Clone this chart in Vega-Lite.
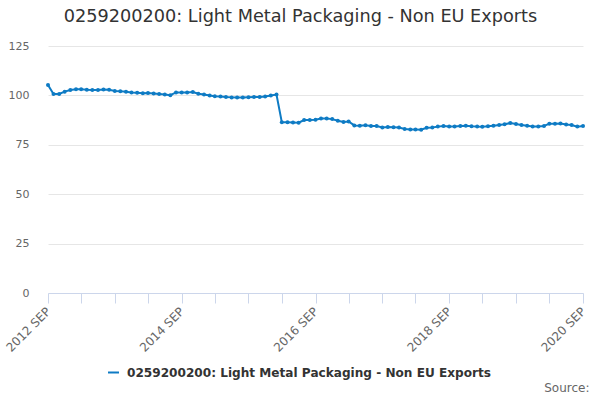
{
  "$schema": "https://vega.github.io/schema/vega-lite/v6.json",
  "autosize": "none",
  "width": 535,
  "height": 247,
  "padding": {"left": 48, "top": 46, "right": 17, "bottom": 107},
  "background": "white",
  "title": {
    "text": "0259200200: Light Metal Packaging - Non EU Exports",
    "font": "DejaVu Sans",
    "fontSize": 17.7,
    "fontWeight": "normal",
    "color": "#333333",
    "anchor": "middle",
    "dx": -15,
    "offset": 14
  },
  "data": {
    "values": [
      {"month": "2012-09-01", "value": 105.3, "series": "0259200200: Light Metal Packaging - Non EU Exports"},
      {"month": "2012-10-01", "value": 100.7, "series": "0259200200: Light Metal Packaging - Non EU Exports"},
      {"month": "2012-11-01", "value": 100.7, "series": "0259200200: Light Metal Packaging - Non EU Exports"},
      {"month": "2012-12-01", "value": 101.9, "series": "0259200200: Light Metal Packaging - Non EU Exports"},
      {"month": "2013-01-01", "value": 102.7, "series": "0259200200: Light Metal Packaging - Non EU Exports"},
      {"month": "2013-02-01", "value": 103.1, "series": "0259200200: Light Metal Packaging - Non EU Exports"},
      {"month": "2013-03-01", "value": 103.1, "series": "0259200200: Light Metal Packaging - Non EU Exports"},
      {"month": "2013-04-01", "value": 102.8, "series": "0259200200: Light Metal Packaging - Non EU Exports"},
      {"month": "2013-05-01", "value": 102.7, "series": "0259200200: Light Metal Packaging - Non EU Exports"},
      {"month": "2013-06-01", "value": 102.7, "series": "0259200200: Light Metal Packaging - Non EU Exports"},
      {"month": "2013-07-01", "value": 103.0, "series": "0259200200: Light Metal Packaging - Non EU Exports"},
      {"month": "2013-08-01", "value": 102.8, "series": "0259200200: Light Metal Packaging - Non EU Exports"},
      {"month": "2013-09-01", "value": 102.2, "series": "0259200200: Light Metal Packaging - Non EU Exports"},
      {"month": "2013-10-01", "value": 102.1, "series": "0259200200: Light Metal Packaging - Non EU Exports"},
      {"month": "2013-11-01", "value": 101.8, "series": "0259200200: Light Metal Packaging - Non EU Exports"},
      {"month": "2013-12-01", "value": 101.5, "series": "0259200200: Light Metal Packaging - Non EU Exports"},
      {"month": "2014-01-01", "value": 101.3, "series": "0259200200: Light Metal Packaging - Non EU Exports"},
      {"month": "2014-02-01", "value": 101.1, "series": "0259200200: Light Metal Packaging - Non EU Exports"},
      {"month": "2014-03-01", "value": 101.2, "series": "0259200200: Light Metal Packaging - Non EU Exports"},
      {"month": "2014-04-01", "value": 101.0, "series": "0259200200: Light Metal Packaging - Non EU Exports"},
      {"month": "2014-05-01", "value": 100.7, "series": "0259200200: Light Metal Packaging - Non EU Exports"},
      {"month": "2014-06-01", "value": 100.4, "series": "0259200200: Light Metal Packaging - Non EU Exports"},
      {"month": "2014-07-01", "value": 100.1, "series": "0259200200: Light Metal Packaging - Non EU Exports"},
      {"month": "2014-08-01", "value": 101.5, "series": "0259200200: Light Metal Packaging - Non EU Exports"},
      {"month": "2014-09-01", "value": 101.5, "series": "0259200200: Light Metal Packaging - Non EU Exports"},
      {"month": "2014-10-01", "value": 101.5, "series": "0259200200: Light Metal Packaging - Non EU Exports"},
      {"month": "2014-11-01", "value": 101.7, "series": "0259200200: Light Metal Packaging - Non EU Exports"},
      {"month": "2014-12-01", "value": 100.8, "series": "0259200200: Light Metal Packaging - Non EU Exports"},
      {"month": "2015-01-01", "value": 100.5, "series": "0259200200: Light Metal Packaging - Non EU Exports"},
      {"month": "2015-02-01", "value": 99.9, "series": "0259200200: Light Metal Packaging - Non EU Exports"},
      {"month": "2015-03-01", "value": 99.6, "series": "0259200200: Light Metal Packaging - Non EU Exports"},
      {"month": "2015-04-01", "value": 99.5, "series": "0259200200: Light Metal Packaging - Non EU Exports"},
      {"month": "2015-05-01", "value": 99.2, "series": "0259200200: Light Metal Packaging - Non EU Exports"},
      {"month": "2015-06-01", "value": 99.0, "series": "0259200200: Light Metal Packaging - Non EU Exports"},
      {"month": "2015-07-01", "value": 98.9, "series": "0259200200: Light Metal Packaging - Non EU Exports"},
      {"month": "2015-08-01", "value": 98.9, "series": "0259200200: Light Metal Packaging - Non EU Exports"},
      {"month": "2015-09-01", "value": 99.1, "series": "0259200200: Light Metal Packaging - Non EU Exports"},
      {"month": "2015-10-01", "value": 99.2, "series": "0259200200: Light Metal Packaging - Non EU Exports"},
      {"month": "2015-11-01", "value": 99.2, "series": "0259200200: Light Metal Packaging - Non EU Exports"},
      {"month": "2015-12-01", "value": 99.4, "series": "0259200200: Light Metal Packaging - Non EU Exports"},
      {"month": "2016-01-01", "value": 99.9, "series": "0259200200: Light Metal Packaging - Non EU Exports"},
      {"month": "2016-02-01", "value": 100.4, "series": "0259200200: Light Metal Packaging - Non EU Exports"},
      {"month": "2016-03-01", "value": 86.4, "series": "0259200200: Light Metal Packaging - Non EU Exports"},
      {"month": "2016-04-01", "value": 86.4, "series": "0259200200: Light Metal Packaging - Non EU Exports"},
      {"month": "2016-05-01", "value": 86.3, "series": "0259200200: Light Metal Packaging - Non EU Exports"},
      {"month": "2016-06-01", "value": 86.2, "series": "0259200200: Light Metal Packaging - Non EU Exports"},
      {"month": "2016-07-01", "value": 87.5, "series": "0259200200: Light Metal Packaging - Non EU Exports"},
      {"month": "2016-08-01", "value": 87.6, "series": "0259200200: Light Metal Packaging - Non EU Exports"},
      {"month": "2016-09-01", "value": 87.7, "series": "0259200200: Light Metal Packaging - Non EU Exports"},
      {"month": "2016-10-01", "value": 88.3, "series": "0259200200: Light Metal Packaging - Non EU Exports"},
      {"month": "2016-11-01", "value": 88.3, "series": "0259200200: Light Metal Packaging - Non EU Exports"},
      {"month": "2016-12-01", "value": 88.0, "series": "0259200200: Light Metal Packaging - Non EU Exports"},
      {"month": "2017-01-01", "value": 87.2, "series": "0259200200: Light Metal Packaging - Non EU Exports"},
      {"month": "2017-02-01", "value": 86.6, "series": "0259200200: Light Metal Packaging - Non EU Exports"},
      {"month": "2017-03-01", "value": 86.8, "series": "0259200200: Light Metal Packaging - Non EU Exports"},
      {"month": "2017-04-01", "value": 84.8, "series": "0259200200: Light Metal Packaging - Non EU Exports"},
      {"month": "2017-05-01", "value": 84.6, "series": "0259200200: Light Metal Packaging - Non EU Exports"},
      {"month": "2017-06-01", "value": 84.9, "series": "0259200200: Light Metal Packaging - Non EU Exports"},
      {"month": "2017-07-01", "value": 84.5, "series": "0259200200: Light Metal Packaging - Non EU Exports"},
      {"month": "2017-08-01", "value": 84.5, "series": "0259200200: Light Metal Packaging - Non EU Exports"},
      {"month": "2017-09-01", "value": 83.8, "series": "0259200200: Light Metal Packaging - Non EU Exports"},
      {"month": "2017-10-01", "value": 84.0, "series": "0259200200: Light Metal Packaging - Non EU Exports"},
      {"month": "2017-11-01", "value": 83.9, "series": "0259200200: Light Metal Packaging - Non EU Exports"},
      {"month": "2017-12-01", "value": 83.7, "series": "0259200200: Light Metal Packaging - Non EU Exports"},
      {"month": "2018-01-01", "value": 83.0, "series": "0259200200: Light Metal Packaging - Non EU Exports"},
      {"month": "2018-02-01", "value": 82.8, "series": "0259200200: Light Metal Packaging - Non EU Exports"},
      {"month": "2018-03-01", "value": 82.7, "series": "0259200200: Light Metal Packaging - Non EU Exports"},
      {"month": "2018-04-01", "value": 82.6, "series": "0259200200: Light Metal Packaging - Non EU Exports"},
      {"month": "2018-05-01", "value": 83.6, "series": "0259200200: Light Metal Packaging - Non EU Exports"},
      {"month": "2018-06-01", "value": 83.8, "series": "0259200200: Light Metal Packaging - Non EU Exports"},
      {"month": "2018-07-01", "value": 84.2, "series": "0259200200: Light Metal Packaging - Non EU Exports"},
      {"month": "2018-08-01", "value": 84.5, "series": "0259200200: Light Metal Packaging - Non EU Exports"},
      {"month": "2018-09-01", "value": 84.3, "series": "0259200200: Light Metal Packaging - Non EU Exports"},
      {"month": "2018-10-01", "value": 84.3, "series": "0259200200: Light Metal Packaging - Non EU Exports"},
      {"month": "2018-11-01", "value": 84.5, "series": "0259200200: Light Metal Packaging - Non EU Exports"},
      {"month": "2018-12-01", "value": 84.7, "series": "0259200200: Light Metal Packaging - Non EU Exports"},
      {"month": "2019-01-01", "value": 84.4, "series": "0259200200: Light Metal Packaging - Non EU Exports"},
      {"month": "2019-02-01", "value": 84.2, "series": "0259200200: Light Metal Packaging - Non EU Exports"},
      {"month": "2019-03-01", "value": 84.1, "series": "0259200200: Light Metal Packaging - Non EU Exports"},
      {"month": "2019-04-01", "value": 84.4, "series": "0259200200: Light Metal Packaging - Non EU Exports"},
      {"month": "2019-05-01", "value": 84.7, "series": "0259200200: Light Metal Packaging - Non EU Exports"},
      {"month": "2019-06-01", "value": 85.0, "series": "0259200200: Light Metal Packaging - Non EU Exports"},
      {"month": "2019-07-01", "value": 85.4, "series": "0259200200: Light Metal Packaging - Non EU Exports"},
      {"month": "2019-08-01", "value": 86.0, "series": "0259200200: Light Metal Packaging - Non EU Exports"},
      {"month": "2019-09-01", "value": 85.5, "series": "0259200200: Light Metal Packaging - Non EU Exports"},
      {"month": "2019-10-01", "value": 85.0, "series": "0259200200: Light Metal Packaging - Non EU Exports"},
      {"month": "2019-11-01", "value": 84.6, "series": "0259200200: Light Metal Packaging - Non EU Exports"},
      {"month": "2019-12-01", "value": 84.3, "series": "0259200200: Light Metal Packaging - Non EU Exports"},
      {"month": "2020-01-01", "value": 84.3, "series": "0259200200: Light Metal Packaging - Non EU Exports"},
      {"month": "2020-02-01", "value": 84.5, "series": "0259200200: Light Metal Packaging - Non EU Exports"},
      {"month": "2020-03-01", "value": 85.7, "series": "0259200200: Light Metal Packaging - Non EU Exports"},
      {"month": "2020-04-01", "value": 85.7, "series": "0259200200: Light Metal Packaging - Non EU Exports"},
      {"month": "2020-05-01", "value": 85.8, "series": "0259200200: Light Metal Packaging - Non EU Exports"},
      {"month": "2020-06-01", "value": 85.3, "series": "0259200200: Light Metal Packaging - Non EU Exports"},
      {"month": "2020-07-01", "value": 85.0, "series": "0259200200: Light Metal Packaging - Non EU Exports"},
      {"month": "2020-08-01", "value": 84.2, "series": "0259200200: Light Metal Packaging - Non EU Exports"},
      {"month": "2020-09-01", "value": 84.5, "series": "0259200200: Light Metal Packaging - Non EU Exports"}
    ]
  },
  "mark": {
    "type": "line",
    "strokeWidth": 2,
    "point": {"filled": true, "size": 16}
  },
  "encoding": {
    "x": {
      "field": "month",
      "type": "temporal",
      "scale": {"type": "utc", "domain": ["2012-09-01", "2020-09-01"], "nice": false},
      "axis": {
        "values": [
          "2012-09-01", "2013-03-01", "2013-09-01", "2014-03-01", "2014-09-01",
          "2015-03-01", "2015-09-01", "2016-03-01", "2016-09-01", "2017-03-01",
          "2017-09-01", "2018-03-01", "2018-09-01", "2019-03-01", "2019-09-01",
          "2020-03-01", "2020-09-01"
        ],
        "labelExpr": "utcmonth(datum.value) == 8 && utcyear(datum.value) % 2 == 0 ? utcFormat(datum.value, '%Y') + ' SEP' : ''",
        "labelAngle": -45,
        "labelAlign": "right",
        "labelBaseline": "middle",
        "labelPadding": 6,
        "labelFont": "DejaVu Sans",
        "labelFontSize": 12,
        "labelColor": "#666666",
        "labelOverlap": false,
        "grid": false,
        "domainColor": "#ccd6eb",
        "tickColor": "#ccd6eb",
        "tickSize": 10,
        "title": "Source:",
        "titleFont": "DejaVu Sans",
        "titleFontSize": 12,
        "titleFontWeight": "normal",
        "titleColor": "#666666",
        "titleX": 541,
        "titleY": 101,
        "titleAlign": "right",
        "titleBaseline": "bottom"
      }
    },
    "y": {
      "field": "value",
      "type": "quantitative",
      "scale": {"domain": [0, 125], "nice": false},
      "axis": {
        "values": [0, 25, 50, 75, 100, 125],
        "title": null,
        "domain": false,
        "ticks": false,
        "labelPadding": 19,
        "labelFont": "DejaVu Sans",
        "labelFontSize": 11,
        "labelColor": "#666666",
        "gridColor": "#e6e6e6"
      }
    },
    "color": {
      "field": "series",
      "type": "nominal",
      "scale": {"range": ["#0e7bc4"]},
      "legend": {
        "title": null,
        "orient": "none",
        "legendX": 59,
        "legendY": 320,
        "labelLimit": 0,
        "labelOffset": 7,
        "labelFont": "DejaVu Sans",
        "labelFontSize": 12.1,
        "labelFontWeight": "bold",
        "labelColor": "#333333",
        "symbolType": "stroke",
        "symbolStrokeWidth": 2,
        "symbolSize": 120
      }
    }
  },
  "config": {
    "view": {"stroke": null},
    "font": "DejaVu Sans"
  }
}
